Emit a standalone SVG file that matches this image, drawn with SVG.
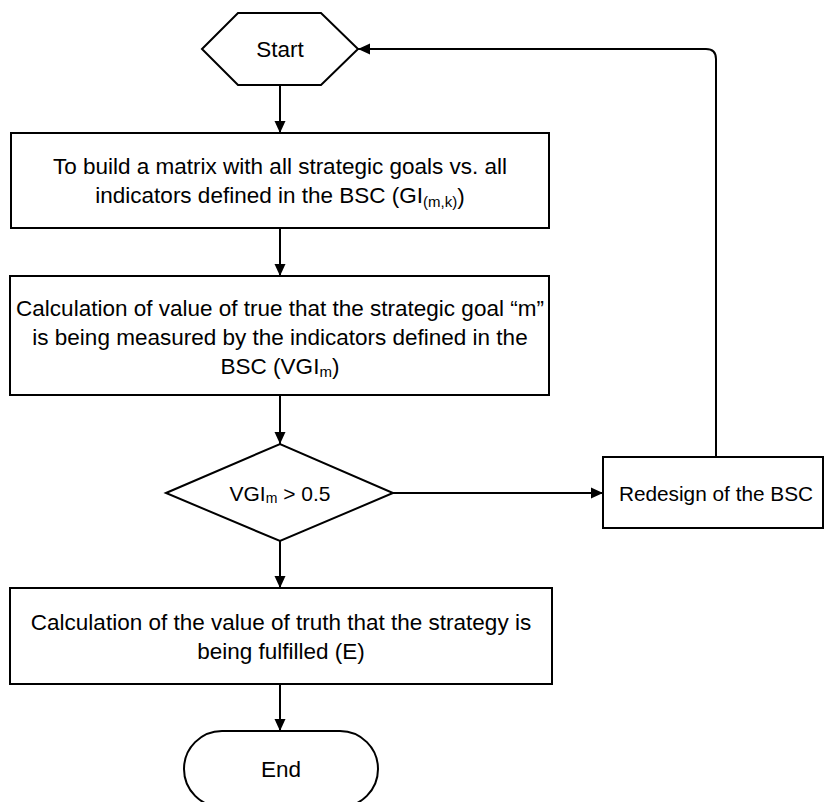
<svg xmlns="http://www.w3.org/2000/svg" width="827" height="802" viewBox="0 0 827 802">
<defs>
<style>
.s{fill:#fff;stroke:#000;stroke-width:2}
.c{fill:none;stroke:#000;stroke-width:2}
.t{font-family:"Liberation Sans",Arial,sans-serif;font-size:22.5px;fill:#000;text-anchor:middle;dominant-baseline:central}
</style>
<marker id="ah" markerUnits="userSpaceOnUse" markerWidth="13" markerHeight="12" refX="12" refY="6" orient="auto">
<path d="M0,0.5 L12,6 L0,11.5 Z" fill="#000"/>
</marker>
</defs>
<rect width="827" height="802" fill="#fff"/>
<g id="connectors">
<line class="c" x1="280" y1="85" x2="280" y2="133" marker-end="url(#ah)"/>
<line class="c" x1="280" y1="228" x2="280" y2="276" marker-end="url(#ah)"/>
<line class="c" x1="280" y1="395" x2="280" y2="444" marker-end="url(#ah)"/>
<line class="c" x1="393" y1="493" x2="603" y2="493" marker-end="url(#ah)"/>
<path class="c" d="M716,457 L716,59 Q716,49 706,49 L358,49" marker-end="url(#ah)"/>
<line class="c" x1="280" y1="541" x2="280" y2="588" marker-end="url(#ah)"/>
<line class="c" x1="280" y1="684" x2="280" y2="731" marker-end="url(#ah)"/>
</g>
<g id="start">
<polygon class="s" points="202,49 238,13 321,13 358,49 321,85 238,85"/>
<text class="t" x="280" y="49">Start</text>
</g>
<g id="build-matrix">
<rect class="s" x="11" y="133" width="538" height="95"/>
<text class="t" x="280" y="166.5">To build a matrix with all strategic goals vs. all</text>
<text class="t" x="280" y="195.5">indicators defined in the BSC (GI<tspan font-size="15" dy="5">(m,k)</tspan><tspan dy="-5">)</tspan></text>
</g>
<g id="calc-vgi">
<rect class="s" x="10" y="276" width="539" height="119"/>
<text class="t" x="280" y="308">Calculation of value of true that the strategic goal “m”</text>
<text class="t" x="280" y="337">is being measured by the indicators defined in the</text>
<text class="t" x="280" y="366">BSC (VGI<tspan font-size="15" dy="5">m</tspan><tspan dy="-5">)</tspan></text>
</g>
<g id="decision">
<polygon class="s" points="166,493 280,444 393,493 280,541"/>
<text class="t" x="280" y="493" style="font-size:21px">VGI<tspan font-size="14" dy="5">m</tspan><tspan dy="-5"> &gt; 0.5</tspan></text>
</g>
<g id="redesign">
<rect class="s" x="603" y="457" width="220" height="71"/>
<text class="t" x="716" y="493" style="font-size:20.8px">Redesign of the BSC</text>
</g>
<g id="calc-e">
<rect class="s" x="10" y="588" width="542" height="96"/>
<text class="t" x="281" y="622">Calculation of the value of truth that the strategy is</text>
<text class="t" x="281" y="651">being fulfilled (E)</text>
</g>
<g id="end">
<rect class="s" x="184" y="731" width="194" height="76" rx="38" ry="38"/>
<text class="t" x="281" y="769">End</text>
</g>
</svg>
